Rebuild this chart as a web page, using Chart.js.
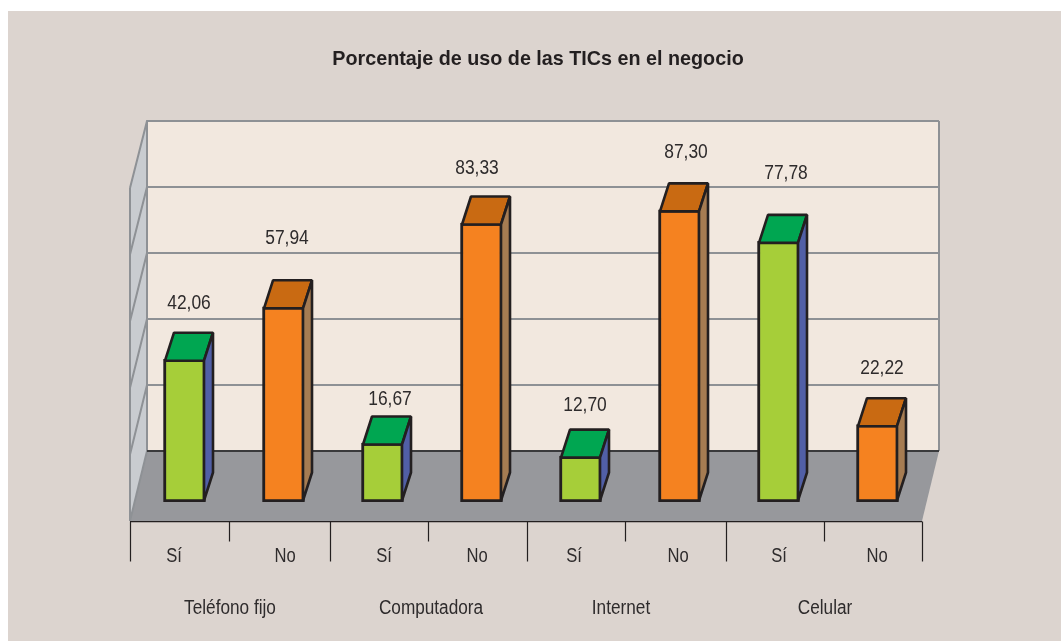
<!DOCTYPE html>
<html lang="es">
<head>
<meta charset="utf-8">
<title>Porcentaje de uso de las TICs en el negocio</title>
<style>html,body{margin:0;padding:0;background:#fff}canvas{display:block}#w{width:1061px;height:641px;position:relative}</style>
<script src="https://cdn.jsdelivr.net/npm/chart.js@4/dist/chart.umd.js"></script>
</head>
<body>
<div id="w"><canvas id="c"></canvas></div>
<script>
const titleText = 'Porcentaje de uso de las TICs en el negocio';
const categories = ['Sí','No','Sí','No','Sí','No','Sí','No'];
const groups = ['Teléfono fijo','Computadora','Internet','Celular'];
const values = [42.06,57.94,16.67,83.33,12.70,87.30,77.78,22.22];
const valueLabels = ['42,06','57,94','16,67','83,33','12,70','87,30','77,78','22,22'];
const gridValues = [0,20,40,60,80,100];

const ink='#231f20', textCol='#2e2b2c', gridCol='#8e9195';
const fronts=['#a6ce39','#f58220'], tops=['#00a651','#c96a12'], sides=['#515fa6','#a67c52'];
const labelDx=[4.5,3.5,7.5,-4.5,4.5,6.5,7.5,4.5], labelDy=[59,71,47,58,54,60,71,59];
const tickDx=[-5.5,6.5,6.5,0.5,-1.5,3.5,5.5,4.5], groupX=[230,431,621,825];
const tickNudge=[0,0,2,1,1,0,2,1,0];
const FONT='"Liberation Sans",Arial,sans-serif';
const DX=9, DY=28;

function squeezed(c,t,x,y,sx){
  c.save();c.translate(x,y);c.scale(sx,1);c.fillText(t,0,0);c.restore();
}

const scene={
  id:'scene',
  beforeDraw(ch){
    const c=ch.ctx, y=ch.scales.y, x=ch.scales.x;
    const backY=v=>y.getPixelForValue(v)-47, frontY=v=>y.getPixelForValue(v)+23-0.03*v;
    const L=x.left-5, R=x.right-5;
    c.save();
    c.fillStyle='#dcd4cf'; c.fillRect(8,11,1053,630);
    c.fillStyle='#f2e8df'; c.fillRect(L+17,backY(100),R-L,backY(0)-backY(100));
    c.fillStyle='#c9ccd0'; c.beginPath();
    c.moveTo(L+17,backY(100));c.lineTo(L,frontY(100));c.lineTo(L,frontY(0));c.lineTo(L+17,backY(0));c.closePath();c.fill();
    c.fillStyle='#97989c'; c.beginPath();
    c.moveTo(L+17,backY(0));c.lineTo(R+17,backY(0));c.lineTo(R,frontY(0));c.lineTo(L,frontY(0));c.closePath();c.fill();
    c.strokeStyle=gridCol; c.lineWidth=2;
    gridValues.forEach(v=>{
      c.beginPath();c.moveTo(L,frontY(v));c.lineTo(L+17,backY(v));
      if(v>0)c.lineTo(R+17,backY(v));c.stroke();
    });
    c.beginPath();c.moveTo(L,frontY(100));c.lineTo(L,frontY(0));c.stroke();
    c.beginPath();c.moveTo(L+17,backY(100));c.lineTo(L+17,backY(0));c.stroke();
    c.beginPath();c.moveTo(R+17,backY(100));c.lineTo(R+17,backY(0));c.stroke();
    c.strokeStyle='#3a3a3c'; c.lineWidth=2;
    c.beginPath();c.moveTo(L+17,backY(0));c.lineTo(R+17,backY(0));c.stroke();
    c.strokeStyle=ink; c.lineWidth=1.2;
    const ay=frontY(0)+0.5;
    c.beginPath();c.moveTo(L,ay);c.lineTo(R,ay);
    for(let i=0;i<=categories.length;i++){
      const px=Math.round(L+(R-L)*i/categories.length)+tickNudge[i]+.5;
      c.moveTo(px,ay);c.lineTo(px,ay+(i%2===0?40:20));
    }
    c.stroke();
    c.restore();
  },
  afterDatasetsDraw(ch){
    const c=ch.ctx, meta=ch.getDatasetMeta(0);
    c.save();
    c.lineJoin='bevel'; c.strokeStyle=ink; c.lineWidth=2.6;
    meta.data.forEach((b,i)=>{
      const p=b.getProps(['x','y','base','width']);
      const l=p.x-p.width/2+1.5, r=p.x+p.width/2-1.5, t=p.y+1.5, bt=p.base-1.5, k=i%2;
      c.fillStyle=tops[k]; c.beginPath();c.moveTo(l,t);c.lineTo(l+DX,t-DY);c.lineTo(r+DX,t-DY);c.lineTo(r,t);c.closePath();c.fill();c.stroke();
      c.fillStyle=sides[k]; c.beginPath();c.moveTo(r,t);c.lineTo(r+DX,t-DY);c.lineTo(r+DX,bt-DY);c.lineTo(r,bt);c.closePath();c.fill();c.stroke();
    });
    c.fillStyle=textCol; c.textAlign='center'; c.textBaseline='middle';
    c.font='20px '+FONT;
    meta.data.forEach((b,i)=>{
      squeezed(c,valueLabels[i], b.x+labelDx[i], b.y+3-labelDy[i], .87);
    });
    const x=ch.scales.x;
    categories.forEach((t,i)=>squeezed(c,t,x.getPixelForValue(i)-5+tickDx[i],556,.83));
    groups.forEach((t,i)=>squeezed(c,t,groupX[i],608,.86));
    c.font='bold 21px '+FONT; c.fillStyle=ink;
    squeezed(c,titleText,538,59,.94);
    c.restore();
  }
};

new Chart(document.getElementById('c'),{
  type:'bar',
  data:{labels:categories,datasets:[{
    data:values,
    base:-1.2,
    backgroundColor:categories.map((_,i)=>fronts[i%2]),
    borderColor:ink,
    borderWidth:3,
    borderSkipped:false,
    barThickness:42
  }]},
  options:{
    responsive:true,maintainAspectRatio:false,animation:false,
    layout:{padding:{left:135,right:134,top:168,bottom:139}},
    plugins:{legend:{display:false},title:{display:false},tooltip:{enabled:false}},
    scales:{
      x:{display:false,offset:true,grid:{display:false}},
      y:{display:false,min:-1.2,max:100,grid:{display:false}}
    }
  },
  plugins:[scene]
});
</script>
</body>
</html>
